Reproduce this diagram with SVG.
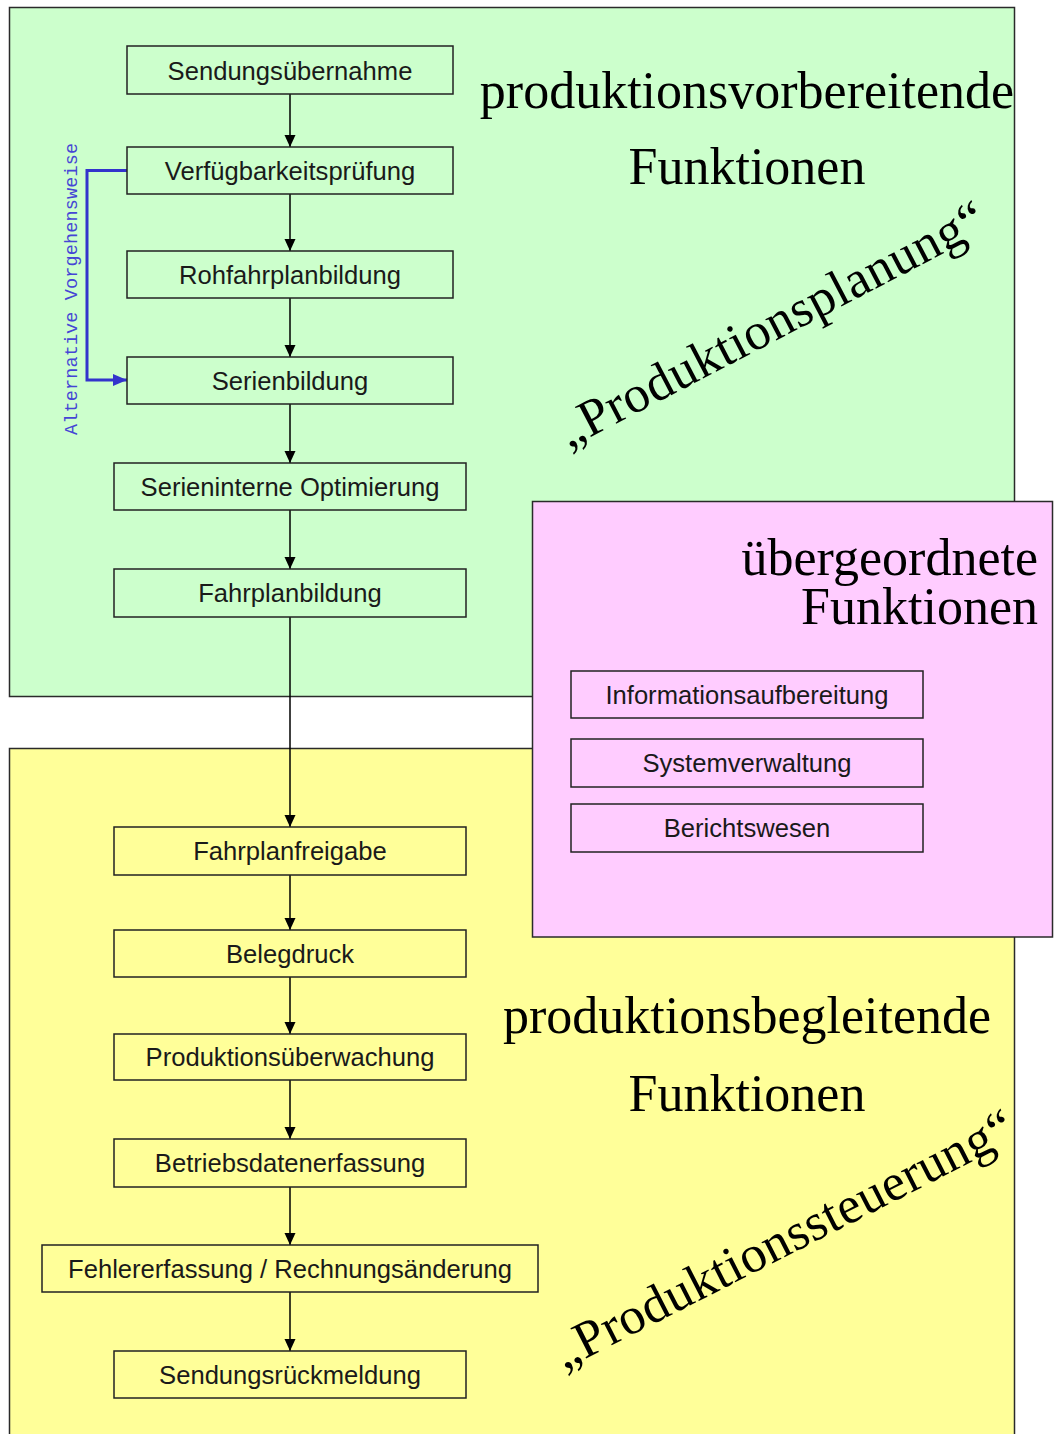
<svg xmlns="http://www.w3.org/2000/svg" width="1054" height="1434" viewBox="0 0 1054 1434">
<style>
.region{stroke:#2a2a2a;stroke-width:1.5}
.box{stroke:#222;stroke-width:1.5}
.g{fill:#ccffcc}.y{fill:#ffff99}.p{fill:#ffccff}
.lbl{font-family:"Liberation Sans",Arial,sans-serif;font-size:25.6px;fill:#1a1a1a;text-anchor:middle}
.big{font-family:"Liberation Serif","Times New Roman",serif;font-size:52px;fill:#000}
.rot{font-family:"Liberation Serif","Times New Roman",serif;font-size:52px;letter-spacing:0.5px;fill:#000;text-anchor:middle}
.conn{stroke:#000;stroke-width:1.5;fill:none}
</style>
<defs>
<marker id="ah" viewBox="0 0 12 12" refX="12" refY="6" markerWidth="12" markerHeight="12" markerUnits="userSpaceOnUse" orient="auto">
<path d="M0,0.5 L12,6 L0,11.5 z" fill="#000"/>
</marker>
<marker id="ahb" viewBox="0 0 14 14" refX="14" refY="7" markerWidth="14" markerHeight="14" markerUnits="userSpaceOnUse" orient="auto">
<path d="M0,1 L14,7 L0,13 z" fill="#3333cc"/>
</marker>
</defs>
<rect width="1054" height="1434" fill="#fff"/>
<g id="region-planung">
<rect class="region g" x="9.5" y="7.5" width="1005" height="689"/>
<text class="big" x="747" y="108" text-anchor="middle">produktionsvorbereitende</text>
<text class="big" x="747" y="184" text-anchor="middle">Funktionen</text>
<text class="rot" transform="translate(779,339) rotate(-27.5)">„Produktionsplanung“</text>
</g>
<g id="region-steuerung">
<rect class="region y" x="9.5" y="748.5" width="1005" height="700"/>
<text class="big" x="747" y="1033" text-anchor="middle">produktionsbegleitende</text>
<text class="big" x="747" y="1111" text-anchor="middle">Funktionen</text>
<text class="rot" transform="translate(791,1254) rotate(-27)">„Produktionssteuerung“</text>
</g>
<g id="connectors">
<line class="conn" x1="290" y1="94" x2="290" y2="147" marker-end="url(#ah)"/>
<line class="conn" x1="290" y1="194" x2="290" y2="251" marker-end="url(#ah)"/>
<line class="conn" x1="290" y1="298" x2="290" y2="357" marker-end="url(#ah)"/>
<line class="conn" x1="290" y1="404" x2="290" y2="463" marker-end="url(#ah)"/>
<line class="conn" x1="290" y1="510" x2="290" y2="569" marker-end="url(#ah)"/>
<line class="conn" x1="290" y1="617" x2="290" y2="827" marker-end="url(#ah)"/>
<line class="conn" x1="290" y1="875" x2="290" y2="930" marker-end="url(#ah)"/>
<line class="conn" x1="290" y1="977" x2="290" y2="1034" marker-end="url(#ah)"/>
<line class="conn" x1="290" y1="1080" x2="290" y2="1139" marker-end="url(#ah)"/>
<line class="conn" x1="290" y1="1187" x2="290" y2="1245" marker-end="url(#ah)"/>
<line class="conn" x1="290" y1="1292" x2="290" y2="1351" marker-end="url(#ah)"/>
<path d="M127,170.5 H87 V380 H127" fill="none" stroke="#3333cc" stroke-width="3" marker-end="url(#ahb)"/>
<text transform="translate(77,289) rotate(-90)" text-anchor="middle" font-family="'Liberation Mono','Courier New',monospace" font-size="18.5" fill="#4545d5" textLength="292" lengthAdjust="spacing">Alternative Vorgehensweise</text>
</g>
<g id="n-sendungsuebernahme"><rect class="box g" x="127" y="46" width="326" height="48"/><text class="lbl" x="290" y="79.5">Sendungsübernahme</text></g>
<g id="n-verfuegbarkeit"><rect class="box g" x="127" y="147" width="326" height="47"/><text class="lbl" x="290" y="180">Verfügbarkeitsprüfung</text></g>
<g id="n-rohfahrplan"><rect class="box g" x="127" y="251" width="326" height="47"/><text class="lbl" x="290" y="284">Rohfahrplanbildung</text></g>
<g id="n-serienbildung"><rect class="box g" x="127" y="357" width="326" height="47"/><text class="lbl" x="290" y="390">Serienbildung</text></g>
<g id="n-serienintern"><rect class="box g" x="114" y="463" width="352" height="47"/><text class="lbl" x="290" y="496">Serieninterne Optimierung</text></g>
<g id="n-fahrplanbildung"><rect class="box g" x="114" y="569" width="352" height="48"/><text class="lbl" x="290" y="602">Fahrplanbildung</text></g>
<g id="n-fahrplanfreigabe"><rect class="box y" x="114" y="827" width="352" height="48"/><text class="lbl" x="290" y="860">Fahrplanfreigabe</text></g>
<g id="n-belegdruck"><rect class="box y" x="114" y="930" width="352" height="47"/><text class="lbl" x="290" y="963">Belegdruck</text></g>
<g id="n-produktionsueberwachung"><rect class="box y" x="114" y="1034" width="352" height="46"/><text class="lbl" x="290" y="1066">Produktionsüberwachung</text></g>
<g id="n-betriebsdaten"><rect class="box y" x="114" y="1139" width="352" height="48"/><text class="lbl" x="290" y="1172">Betriebsdatenerfassung</text></g>
<g id="n-fehlererfassung"><rect class="box y" x="42" y="1245" width="496" height="47"/><text class="lbl" x="290" y="1277.5">Fehlererfassung / Rechnungsänderung</text></g>
<g id="n-sendungsrueckmeldung"><rect class="box y" x="114" y="1351" width="352" height="47"/><text class="lbl" x="290" y="1384">Sendungsrückmeldung</text></g>
<g id="region-uebergeordnet">
<rect class="region p" x="532.5" y="501.5" width="520" height="435.5"/>
<text class="big" x="1038" y="575" text-anchor="end">übergeordnete</text>
<text class="big" x="1038" y="624" text-anchor="end">Funktionen</text>
</g>
<g id="n-informationsaufbereitung"><rect class="box p" x="571" y="671" width="352" height="47"/><text class="lbl" x="747" y="704">Informationsaufbereitung</text></g>
<g id="n-systemverwaltung"><rect class="box p" x="571" y="739" width="352" height="48"/><text class="lbl" x="747" y="772">Systemverwaltung</text></g>
<g id="n-berichtswesen"><rect class="box p" x="571" y="804" width="352" height="48"/><text class="lbl" x="747" y="837">Berichtswesen</text></g>
</svg>
